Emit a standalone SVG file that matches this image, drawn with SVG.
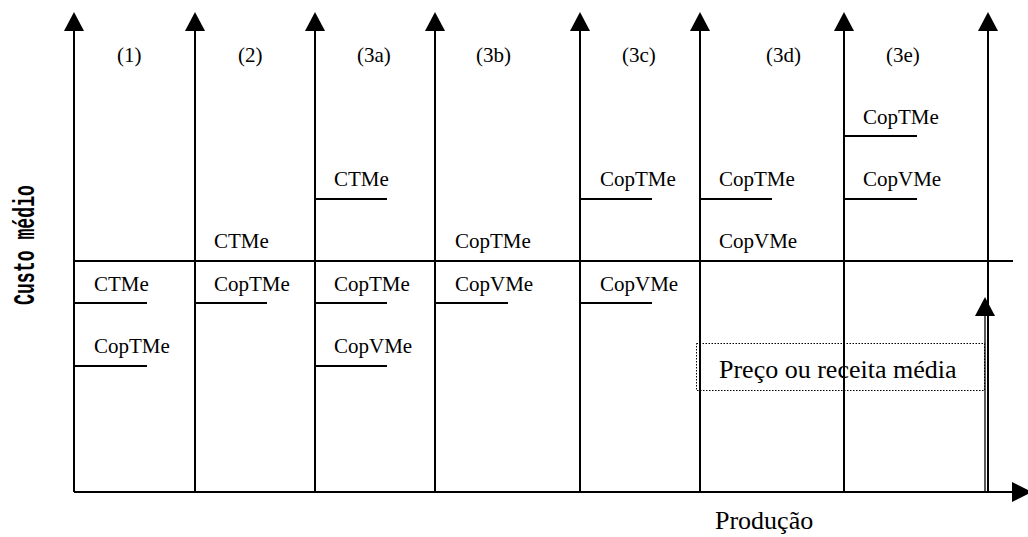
<svg xmlns="http://www.w3.org/2000/svg" width="1028" height="537" viewBox="0 0 1028 537">
<defs>
<style>
.ax{stroke:#000;stroke-width:2;fill:none}
.seg{stroke:#000;stroke-width:2;fill:none}
.hd{fill:#000}
.lb{font-family:"Liberation Serif","Times New Roman",serif;font-size:21px;fill:#000}
.big{font-family:"Liberation Serif","Times New Roman",serif;font-size:26px;fill:#000}
</style>
</defs>
<rect width="1028" height="537" fill="#fff"/>
<g id="axes">
<line class="ax" x1="74" y1="28" x2="74" y2="492"/>
<line class="ax" x1="195" y1="28" x2="195" y2="492"/>
<line class="ax" x1="315" y1="28" x2="315" y2="492"/>
<line class="ax" x1="435" y1="28" x2="435" y2="492"/>
<line class="ax" x1="580" y1="28" x2="580" y2="492"/>
<line class="ax" x1="700" y1="28" x2="700" y2="492"/>
<line class="ax" x1="844" y1="28" x2="844" y2="492"/>
<line class="ax" x1="988" y1="28" x2="988" y2="492"/>
<polygon class="hd" points="74,12 64,31 84,31"/>
<polygon class="hd" points="195,12 185,31 205,31"/>
<polygon class="hd" points="315,12 305,31 325,31"/>
<polygon class="hd" points="435,12 425,31 445,31"/>
<polygon class="hd" points="580,12 570,31 590,31"/>
<polygon class="hd" points="700,12 690,31 710,31"/>
<polygon class="hd" points="844,12 834,31 854,31"/>
<polygon class="hd" points="988,12 978,31 998,31"/>
<line class="ax" x1="74" y1="492" x2="1014" y2="492"/>
<polygon class="hd" points="1032,492 1012,482 1012,502"/>
<line class="ax" x1="74" y1="261" x2="1013" y2="261"/>
<text class="big" x="715" y="529">Produção</text>
<text font-family="'Liberation Mono','DejaVu Sans Mono',monospace" font-weight="bold" font-size="29" fill="#000" transform="translate(34,305) rotate(-90)" textLength="120" lengthAdjust="spacingAndGlyphs">Custo médio</text>
</g>
<g id="col1">
<text class="lb" x="117" y="62">(1)</text>
<text class="lb" x="94" y="291">CTMe</text>
<line class="seg" x1="74" y1="303" x2="147" y2="303"/>
<text class="lb" x="94" y="353">CopTMe</text>
<line class="seg" x1="74" y1="366" x2="147" y2="366"/>
</g>
<g id="col2">
<text class="lb" x="238" y="62">(2)</text>
<text class="lb" x="214" y="248">CTMe</text>
<text class="lb" x="214" y="291">CopTMe</text>
<line class="seg" x1="195" y1="303" x2="267" y2="303"/>
</g>
<g id="col3a">
<text class="lb" x="357" y="62">(3a)</text>
<text class="lb" x="334" y="186">CTMe</text>
<line class="seg" x1="315" y1="199" x2="387" y2="199"/>
<text class="lb" x="334" y="291">CopTMe</text>
<line class="seg" x1="315" y1="303" x2="387" y2="303"/>
<text class="lb" x="334" y="353">CopVMe</text>
<line class="seg" x1="315" y1="366" x2="387" y2="366"/>
</g>
<g id="col3b">
<text class="lb" x="476" y="62">(3b)</text>
<text class="lb" x="455" y="248">CopTMe</text>
<text class="lb" x="455" y="291">CopVMe</text>
<line class="seg" x1="435" y1="303" x2="508" y2="303"/>
</g>
<g id="col3c">
<text class="lb" x="622" y="62">(3c)</text>
<text class="lb" x="600" y="186">CopTMe</text>
<line class="seg" x1="580" y1="199" x2="652" y2="199"/>
<text class="lb" x="600" y="291">CopVMe</text>
<line class="seg" x1="580" y1="303" x2="652" y2="303"/>
</g>
<g id="col3d">
<text class="lb" x="766" y="62">(3d)</text>
<text class="lb" x="719" y="186">CopTMe</text>
<line class="seg" x1="700" y1="199" x2="772" y2="199"/>
<text class="lb" x="719" y="248">CopVMe</text>
</g>
<g id="col3e">
<text class="lb" x="886" y="62">(3e)</text>
<text class="lb" x="863" y="124">CopTMe</text>
<line class="seg" x1="844" y1="136" x2="917" y2="136"/>
<text class="lb" x="863" y="186">CopVMe</text>
<line class="seg" x1="844" y1="199" x2="917" y2="199"/>
</g>
<g id="price">
<line stroke="#000" stroke-width="1.3" x1="985" y1="314" x2="985" y2="492"/>
<polygon class="hd" points="985,297 975,316 995,316"/>
<rect x="696.5" y="343.5" width="288" height="47" fill="none" stroke="#000" stroke-width="1" stroke-dasharray="1.5,1.5"/>
<text class="big" x="719" y="378">Preço ou receita média</text>
</g>
</svg>
